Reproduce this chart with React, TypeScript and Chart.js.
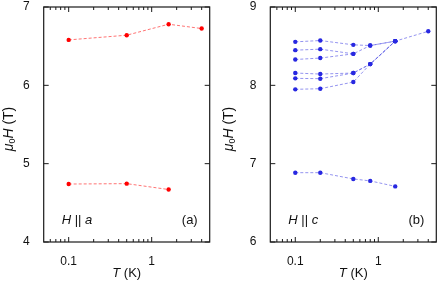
import React, { useEffect, useRef } from "react";
import { Chart, registerables } from "chart.js";
Chart.register(...registerables);

// Panel (a): H || a
const tempA1 = [0.1, 0.5, 1.6, 4];
const fieldA1 = [6.58, 6.64, 6.78, 6.725];
const tempA2 = [0.1, 0.5, 1.6];
const fieldA2 = [4.74, 4.745, 4.67];

// Panel (b): H || c
const tempC = [0.1, 0.2, 0.5, 0.8, 1.6, 4];
const fieldC1 = [8.555, 8.572, 8.517, 8.508, 8.564, 8.69];
const fieldC2 = [8.449, 8.462, 8.402, 8.508, 8.564];
const fieldC3 = [8.33, 8.348, 8.402];
const fieldC4 = [8.157, 8.144, 8.157, 8.271, 8.564];
const fieldC5 = [8.089, 8.085, 8.157, 8.271, 8.564];
const fieldC6 = [7.949, 7.957, 8.042, 8.271, 8.564];
const fieldC7 = [6.885, 6.885, 6.805, 6.78, 6.71];

const xMajor = [0.1, 1];
const xMinor = [0.06, 0.07, 0.08, 0.09, 0.2, 0.3, 0.4, 0.5, 0.6, 0.7, 0.8, 0.9, 2, 3, 4];
const yTicksA = [4, 5, 6, 7];
const yTicksB = [6, 7, 8, 9];

const FONT = "'Liberation Sans', Arial, Helvetica, sans-serif";

function pts(xs: number[], ys: number[]) {
  return ys.map((y, i) => ({ x: xs[i], y }));
}

type Seg = { t: string; italic?: boolean; size?: number; dy?: number };

function drawSegs(ctx: CanvasRenderingContext2D, segs: Seg[], cx: number, cy: number, align: "center" | "left" | "right") {
  let total = 0;
  const widths = segs.map((s) => {
    ctx.font = `${s.italic ? "italic " : ""}${s.size ?? 13}px ${FONT}`;
    const w = ctx.measureText(s.t).width;
    total += w;
    return w;
  });
  let x = align === "center" ? cx - total / 2 : align === "right" ? cx - total : cx;
  ctx.textBaseline = "middle";
  ctx.textAlign = "left";
  segs.forEach((s, i) => {
    ctx.font = `${s.italic ? "italic " : ""}${s.size ?? 13}px ${FONT}`;
    ctx.fillText(s.t, x, cy + (s.dy ?? 0));
    x += widths[i];
  });
}

function makeDecor(label: string, letter: string) {
  return {
    id: "decor" + letter,
    afterDraw(chart: any) {
      const ctx: CanvasRenderingContext2D = chart.ctx;
      const { left, right, top, bottom } = chart.chartArea;
      const xs = chart.scales.x;
      const ys = chart.scales.y;
      ctx.save();
      ctx.strokeStyle = "#1a1a1a";
      ctx.lineWidth = 1.2;
      ctx.strokeRect(left, top, right - left, bottom - top);
      ctx.lineWidth = 1;
      ctx.beginPath();
      const drawX = (v: number, len: number) => {
        const px = xs.getPixelForValue(v);
        ctx.moveTo(px, bottom);
        ctx.lineTo(px, bottom - len);
        ctx.moveTo(px, top);
        ctx.lineTo(px, top + len);
      };
      xMajor.forEach((v) => drawX(v, 5));
      xMinor.forEach((v) => drawX(v, 3));
      (ys.options.min === 4 ? yTicksA : yTicksB).forEach((v: number) => {
        const py = ys.getPixelForValue(v);
        ctx.moveTo(left, py);
        ctx.lineTo(left + 5, py);
        ctx.moveTo(right, py);
        ctx.lineTo(right - 5, py);
      });
      ctx.stroke();

      ctx.fillStyle = "#111";
      // x title
      drawSegs(ctx, [{ t: "T", italic: true, size: 13 }, { t: " (K)", size: 13 }], (left + right) / 2, 273, "center");
      // y title (rotated)
      ctx.save();
      ctx.translate(9, 129);
      ctx.rotate(-Math.PI / 2);
      drawSegs(
        ctx,
        [
          { t: "μ", italic: true, size: 14 },
          { t: "0", size: 9, dy: 3.5 },
          { t: "H", italic: true, size: 14 },
          { t: " (T)", size: 14 },
        ],
        0,
        0,
        "center"
      );
      ctx.restore();
      // annotations
      drawSegs(
        ctx,
        [
          { t: "H", italic: true, size: 13 },
          { t: " || ", size: 13 },
          { t: letter, italic: true, size: 13 },
        ],
        left + 18,
        220,
        "left"
      );
      drawSegs(ctx, [{ t: label, size: 13 }], right - 12, 220, "right");
      ctx.restore();
    },
  };
}

function baseOptions(yMin: number, yMax: number, yWidth: number, padRight: number) {
  return {
    responsive: false,
    animation: false,
    events: [],
    layout: { padding: { left: 0, right: padRight, top: 7, bottom: 0 } },
    plugins: { legend: { display: false }, tooltip: { enabled: false } },
    scales: {
      x: {
        type: "logarithmic",
        min: 0.05,
        max: 5,
        grid: { display: false },
        border: { display: false },
        afterBuildTicks: (scale: any) => {
          scale.ticks = xMajor.map((v) => ({ value: v }));
        },
        afterFit: (scale: any) => {
          scale.height = 43;
          scale.paddingLeft = 0;
          scale.paddingRight = 0;
        },
        ticks: {
          autoSkip: false,
          maxRotation: 0,
          padding: 4,
          color: "#111",
          font: { family: FONT, size: 12 },
          callback: (v: number) => (v === 1 ? "1" : String(v)),
        },
      },
      y: {
        type: "linear",
        min: yMin,
        max: yMax,
        grid: { display: false },
        border: { display: false },
        afterFit: (scale: any) => {
          scale.width = yWidth;
          scale.paddingTop = 0;
          scale.paddingBottom = 0;
        },
        ticks: {
          stepSize: 1,
          padding: 6,
          color: "#111",
          font: { family: FONT, size: 12 },
        },
      },
    },
  };
}

function ds(data: any[], point: string, line: string) {
  return {
    data,
    borderColor: line,
    borderWidth: 1,
    borderDash: [3, 2],
    pointRadius: 2.2,
    pointBackgroundColor: point,
    pointBorderColor: point,
    pointBorderWidth: 0,
    fill: false,
    tension: 0,
  };
}

export default function App() {
  const refA = useRef<HTMLCanvasElement>(null);
  const refB = useRef<HTMLCanvasElement>(null);

  useEffect(() => {
    const redP = "rgb(255,0,0)";
    const redL = "rgba(255,70,70,0.75)";
    const blueP = "rgb(40,40,225)";
    const blueL = "rgba(90,90,230,0.65)";
    const chartA = new Chart(refA.current!, {
      type: "line",
      data: {
        datasets: [ds(pts(tempA1, fieldA1), redP, redL), ds(pts(tempA2, fieldA2), redP, redL)],
      },
      options: baseOptions(4, 7, 43.7, 10.3) as any,
      plugins: [makeDecor("(a)", "a")],
    });
    const chartB = new Chart(refB.current!, {
      type: "line",
      data: {
        datasets: [
          ds(pts(tempC, fieldC1), blueP, blueL),
          ds(pts(tempC, fieldC2), blueP, blueL),
          ds(pts(tempC, fieldC3), blueP, blueL),
          ds(pts(tempC, fieldC4), blueP, blueL),
          ds(pts(tempC, fieldC5), blueP, blueL),
          ds(pts(tempC, fieldC6), blueP, blueL),
          ds(pts(tempC, fieldC7), blueP, blueL),
        ],
      },
      options: baseOptions(6, 9, 50.3, 6.7) as any,
      plugins: [makeDecor("(b)", "c")],
    });
    return () => {
      chartA.destroy();
      chartB.destroy();
    };
  }, []);

  return (
    <div style={{ position: "fixed", left: 0, top: 0, width: 443, height: 285, background: "#fff" }}>
      <canvas ref={refA} width={220} height={285} style={{ position: "absolute", left: 0, top: 0, width: 220, height: 285 }} />
      <canvas ref={refB} width={223} height={285} style={{ position: "absolute", left: 220, top: 0, width: 223, height: 285 }} />
    </div>
  );
}
